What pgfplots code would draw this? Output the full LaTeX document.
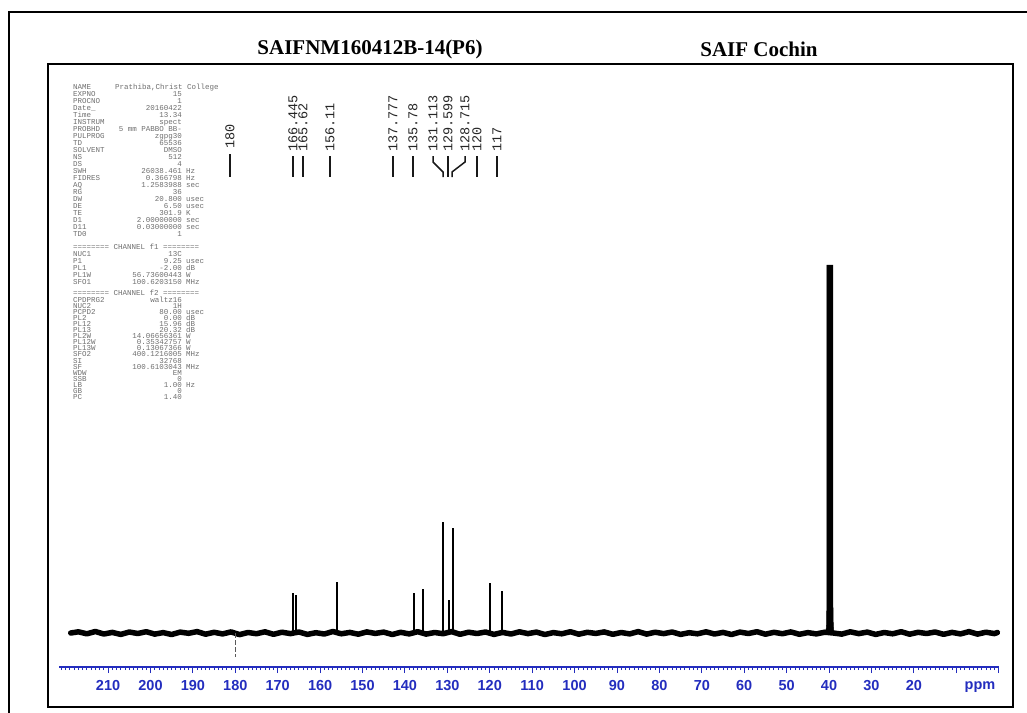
\documentclass[border=0pt]{standalone}
\usepackage{pgfplots}
\pgfplotsset{compat=1.18}
\usepackage{fontspec}
\setmainfont{Liberation Serif}
\newfontfamily\mono{Liberation Mono}
\newfontfamily\arial{Liberation Sans}
\definecolor{axisblue}{RGB}{35,45,190}
\definecolor{prmgray}{RGB}{110,110,110}
\newcommand\prm[4]{%
  \node[anchor=base west] at (73pt,-#1pt) {#2};
  \node[anchor=base east] at (182pt,-#1pt) {#3};
  \node[anchor=base west] at (186pt,-#1pt) {#4};}
\begin{document}
\begin{tikzpicture}[x=1pt,y=1pt]
\useasboundingbox (0,0) rectangle (1027,-712);
% frames
\draw[line width=2pt] (9,-800) -- (9,-12) -- (1100,-12);
\draw[line width=1.3pt] (48,-64) rectangle (1013,-707);
% titles
\node[font=\fontsize{21}{21}\selectfont\bfseries] at (370,-49) {SAIFNM160412B-14(P6)};
\node[font=\fontsize{21}{21}\selectfont\bfseries] at (759,-49) {SAIF Cochin};
% parameter block
\begin{scope}[every node/.style={inner sep=0pt, text=prmgray, font=\mono\fontsize{7.5}{7.5}\selectfont}]
\prm{89}{NAME}{}{}
\node[anchor=base west] at (115,-89) {Prathiba,Christ College};
\prm{96}{EXPNO}{15}{}
\prm{103}{PROCNO}{1}{}
\prm{110}{Date\_}{20160422}{}
\prm{117}{Time}{13.34}{}
\prm{124}{INSTRUM}{spect}{}
\prm{131}{PROBHD}{5 mm PABBO BB-}{}
\prm{138}{PULPROG}{zgpg30}{}
\prm{145}{TD}{65536}{}
\prm{152}{SOLVENT}{DMSO}{}
\prm{159}{NS}{512}{}
\prm{166}{DS}{4}{}
\prm{173}{SWH}{26038.461}{Hz}
\prm{180}{FIDRES}{0.366798}{Hz}
\prm{187}{AQ}{1.2583988}{sec}
\prm{194}{RG}{36}{}
\prm{201}{DW}{20.800}{usec}
\prm{208}{DE}{6.50}{usec}
\prm{215}{TE}{301.9}{K}
\prm{222}{D1}{2.00000000}{sec}
\prm{229}{D11}{0.03000000}{sec}
\prm{236}{TD0}{1}{}
\node[anchor=base west] at (73,-249) {======== CHANNEL f1 ========};
\prm{256}{NUC1}{13C}{}
\prm{263}{P1}{9.25}{usec}
\prm{270}{PL1}{-2.00}{dB}
\prm{277}{PL1W}{56.73600443}{W}
\prm{284}{SFO1}{100.6203150}{MHz}
\node[anchor=base west] at (73,-295) {======== CHANNEL f2 ========};
\prm{302}{CPDPRG2}{waltz16}{}
\prm{308}{NUC2}{1H}{}
\prm{314}{PCPD2}{80.00}{usec}
\prm{320}{PL2}{0.00}{dB}
\prm{326}{PL12}{15.96}{dB}
\prm{332}{PL13}{20.32}{dB}
\prm{338}{PL2W}{14.06656361}{W}
\prm{344}{PL12W}{0.35342757}{W}
\prm{350}{PL13W}{0.13067366}{W}
\prm{356}{SFO2}{400.1216005}{MHz}
\prm{363}{SI}{32768}{}
\prm{369}{SF}{100.6103043}{MHz}
\prm{375}{WDW}{EM}{}
\prm{381}{SSB}{0}{}
\prm{387}{LB}{1.00}{Hz}
\prm{393}{GB}{0}{}
\prm{399}{PC}{1.40}{}
\end{scope}
% peak labels
\begin{scope}[every node/.style={rotate=90, anchor=west, inner sep=0pt, font=\mono\fontsize{13.5}{13.5}\selectfont, text=black!85}]
\node at (230,-149) {180};
\node at (293,-152) {166.445};
\node at (303,-152) {165.62};
\node at (330,-152) {156.11};
\node at (393,-152) {137.777};
\node at (413,-152) {135.78};
\node at (433,-152) {131.113};
\node at (448,-152) {129.599};
\node at (465,-152) {128.715};
\node at (477,-152) {120};
\node at (497,-152) {117};
\end{scope}
\begin{scope}[line width=1.5pt, black!90]
\draw (230,-154) -- (230,-177);
\draw (293,-156) -- (293,-177);
\draw (303,-156) -- (303,-177);
\draw (330,-156) -- (330,-177);
\draw (393,-156) -- (393,-177);
\draw (413,-156) -- (413,-177);
\draw (433,-156) -- (433,-162) -- (443,-172) -- (443,-177);
\draw (448,-156) -- (448,-177);
\draw (465,-156) -- (465,-162) -- (452,-172) -- (452,-177);
\draw (477,-156) -- (477,-177);
\draw (497,-156) -- (497,-177);
\end{scope}
\begin{axis}[
  at={(59.3pt,-667pt)}, anchor=south west,
  scale only axis, width=939.4pt, height=597pt,
  x dir=reverse, xmin=0, xmax=221.5,
  ymin=-34, ymax=563,
  axis x line=bottom, axis y line=none,
  x axis line style={-, color=axisblue, line width=1.2pt},
  xtick={0,10,...,210},
  xticklabels={,,20,30,40,50,60,70,80,90,100,110,120,130,140,150,160,170,180,190,200,210},
  minor xtick={1,2,...,221},
  tick align=outside,
  major tick length=6pt, minor tick length=3pt,
  every tick/.style={color=axisblue, line width=0.9pt},
  /pgf/number format/assume math mode=true,
  xticklabel style={font=\arial\bfseries\fontsize{14.5}{14.5}\selectfont, text=axisblue, anchor=north, yshift=-4pt},
  clip=false,
]
% baseline noise
\addplot[black, line width=5.5pt, line join=round, line cap=round] coordinates {
(218.8,0) (217,1.2) (215,-0.8) (213,1.5) (211,-1.0) (209,0.6) (207,-1.4) (205,1.0)
(203,-0.5) (201,1.3) (199,-1.1) (197,0.4) (195,-1.5) (193,0.9) (191,-0.3) (189,1.4)
(187,-1.2) (185,0.7) (183,-0.9) (181,1.1) (179,-1.6) (177,0.5) (175,-0.7) (173,1.2)
(171,-1.3) (169,0.8) (167,-0.6) (165,1.0) (163,-1.4) (161,0.3) (159,-1.0) (157,1.5)
(155,-0.8) (153,0.6) (151,-1.2) (149,1.1) (147,-0.4) (145,0.9) (143,-1.5) (141,0.7)
(139,-0.9) (137,1.3) (135,-1.1) (133,0.5) (131,-0.7) (129,1.4) (127,-1.3) (125,0.8)
(123,-0.5) (121,1.0) (119,-1.4) (117,0.6) (115,-1.0) (113,1.2) (111,-0.6) (109,0.9)
(107,-1.5) (105,0.4) (103,-0.8) (101,1.3) (99,-1.2) (97,0.7) (95,-0.4) (93,1.1)
(91,-1.3) (89,0.5) (87,-0.9) (85,1.4) (83,-1.1) (81,0.8) (79,-0.6) (77,1.0)
(75,-1.4) (73,0.3) (71,-0.8) (69,1.2) (67,-1.0) (65,0.6) (63,-1.5) (61,0.9)
(59,-0.5) (57,1.3) (55,-1.2) (53,0.7) (51,-0.7) (49,1.1) (47,-1.3) (45,0.4)
(43,-0.9) (41,0.8) (39,0) (37,-1.1) (35,1.2) (33,-0.6) (31,0.9) (29,-1.4)
(27,0.5) (25,-0.8) (23,1.3) (21,-1.2) (19,0.7) (17,-0.5) (15,1.0) (13,-1.3)
(11,0.6) (9,-0.9) (7,1.4) (5,-1.1) (3,0.8) (1,-0.6) (0.3,0.5)
};
% peaks
\addplot[black, ycomb, line width=2pt] coordinates {
(166.445,40) (165.62,38) (156.11,51) (137.777,40) (135.78,44)
(131.113,111) (129.599,33) (128.715,105) (120,50) (117,42)
};
\addplot[black!65, ycomb, line width=1pt, dash pattern=on 5pt off 2pt] coordinates {(180,-24)};
% DMSO solvent multiplet
\addplot[black, fill=black, line width=0.5pt] coordinates {
(40.75,0) (40.6,8) (40.5,33) (40.5,368) (39.1,368) (39.1,33) (39.0,8) (38.85,0)
} -- cycle;
\end{axis}
\node[font=\arial\bfseries\fontsize{14.5}{14.5}\selectfont, text=axisblue] at (980,-687) {ppm};
\end{tikzpicture}
\end{document}
